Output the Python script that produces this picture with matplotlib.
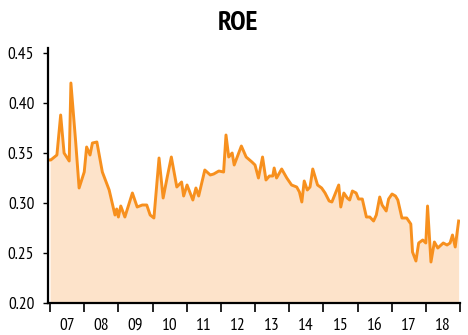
import numpy as np
import matplotlib.pyplot as plt
from matplotlib.ticker import FixedLocator, NullFormatter

# ROE series, x in decimal years
years = [2007.00, 2007.02, 2007.20, 2007.31, 2007.41, 2007.56, 2007.61, 2007.75,
         2007.85, 2008.00, 2008.07, 2008.17, 2008.24, 2008.37, 2008.53, 2008.73,
         2008.90, 2008.95, 2009.00, 2009.07, 2009.19, 2009.41, 2009.55, 2009.70,
         2009.83, 2009.93, 2010.04, 2010.19, 2010.31, 2010.43, 2010.55, 2010.71,
         2010.85, 2010.91, 2011.01, 2011.18, 2011.27, 2011.35, 2011.53, 2011.69,
         2011.79, 2011.94, 2012.08, 2012.15, 2012.23, 2012.33, 2012.39, 2012.60,
         2012.74, 2012.91, 2013.00, 2013.10, 2013.22, 2013.32, 2013.42, 2013.52,
         2013.56, 2013.63, 2013.78, 2013.93, 2014.07, 2014.22, 2014.30, 2014.37,
         2014.44, 2014.53, 2014.61, 2014.69, 2014.83, 2014.95, 2015.05, 2015.17,
         2015.25, 2015.45, 2015.51, 2015.60, 2015.70, 2015.77, 2015.85, 2015.96,
         2016.03, 2016.14, 2016.26, 2016.36, 2016.47, 2016.55, 2016.65, 2016.72,
         2016.84, 2016.91, 2017.01, 2017.11, 2017.18, 2017.30, 2017.44, 2017.56,
         2017.61, 2017.71, 2017.79, 2017.91, 2018.00, 2018.05, 2018.15, 2018.25,
         2018.35, 2018.51, 2018.62, 2018.71, 2018.78, 2018.86, 2018.96]
roe = [0.343, 0.343, 0.348, 0.388, 0.350, 0.342, 0.420, 0.361,
       0.315, 0.331, 0.356, 0.348, 0.360, 0.361, 0.331, 0.313,
       0.288, 0.294, 0.286, 0.297, 0.286, 0.310, 0.296, 0.298,
       0.298, 0.288, 0.285, 0.345, 0.305, 0.326, 0.346, 0.316,
       0.321, 0.307, 0.318, 0.303, 0.315, 0.307, 0.333, 0.328,
       0.329, 0.332, 0.331, 0.368, 0.346, 0.350, 0.338, 0.357,
       0.346, 0.341, 0.338, 0.325, 0.346, 0.323, 0.327, 0.327,
       0.335, 0.325, 0.334, 0.325, 0.318, 0.316, 0.311, 0.301,
       0.322, 0.313, 0.316, 0.334, 0.318, 0.315, 0.310, 0.302,
       0.301, 0.318, 0.296, 0.310, 0.305, 0.303, 0.312, 0.310,
       0.304, 0.304, 0.286, 0.286, 0.282, 0.288, 0.306, 0.298,
       0.292, 0.304, 0.309, 0.307, 0.303, 0.285, 0.285, 0.279,
       0.251, 0.242, 0.260, 0.263, 0.260, 0.297, 0.241, 0.261,
       0.255, 0.260, 0.258, 0.260, 0.268, 0.256, 0.282]

year_labels = ['07', '08', '09', '10', '11', '12', '13', '14', '15', '16', '17', '18']
y_ticks = [0.20, 0.25, 0.30, 0.35, 0.40, 0.45]

plt.rcParams['font.family'] = ['PT Sans Narrow', 'DejaVu Sans']

fig = plt.figure(figsize=(4.68, 3.35), dpi=100)
ax = fig.add_axes([0.1026, 0.0955, 0.8803, 0.7627])

ax.fill_between(years, roe, 0.2, color='#fde3ca', linewidth=0)
ax.plot(years, roe, color='#f7901e', linewidth=2.1, solid_joinstyle='round')

ax.set_xlim(2006.94, 2019.0)
ax.set_ylim(0.2, 0.4555)

# year boundaries get ticks, labels sit mid-year
ax.xaxis.set_major_locator(FixedLocator(np.arange(2007, 2020)))
ax.xaxis.set_major_formatter(NullFormatter())
ax.xaxis.set_minor_locator(FixedLocator(np.arange(2007, 2019) + 0.5))
ax.set_xticklabels(year_labels, minor=True)
ax.tick_params(axis='x', which='major', length=6.5, width=1.2, direction='out')
ax.tick_params(axis='x', which='minor', length=0, pad=10.5, labelsize=12.5)

ax.set_yticks(y_ticks)
ax.set_yticklabels(['%.2f' % v for v in y_ticks])
ax.tick_params(axis='y', length=3.6, width=1.0, pad=6.3, labelsize=12.5)

for side in ['top', 'right']:
    ax.spines[side].set_visible(False)
for side in ['left', 'bottom']:
    ax.spines[side].set_linewidth(1.6)

fig.text(0.508, 0.9104, 'ROE', ha='center', va='baseline', fontsize=20, fontweight='bold')

fig.savefig('out.png', dpi=100)
